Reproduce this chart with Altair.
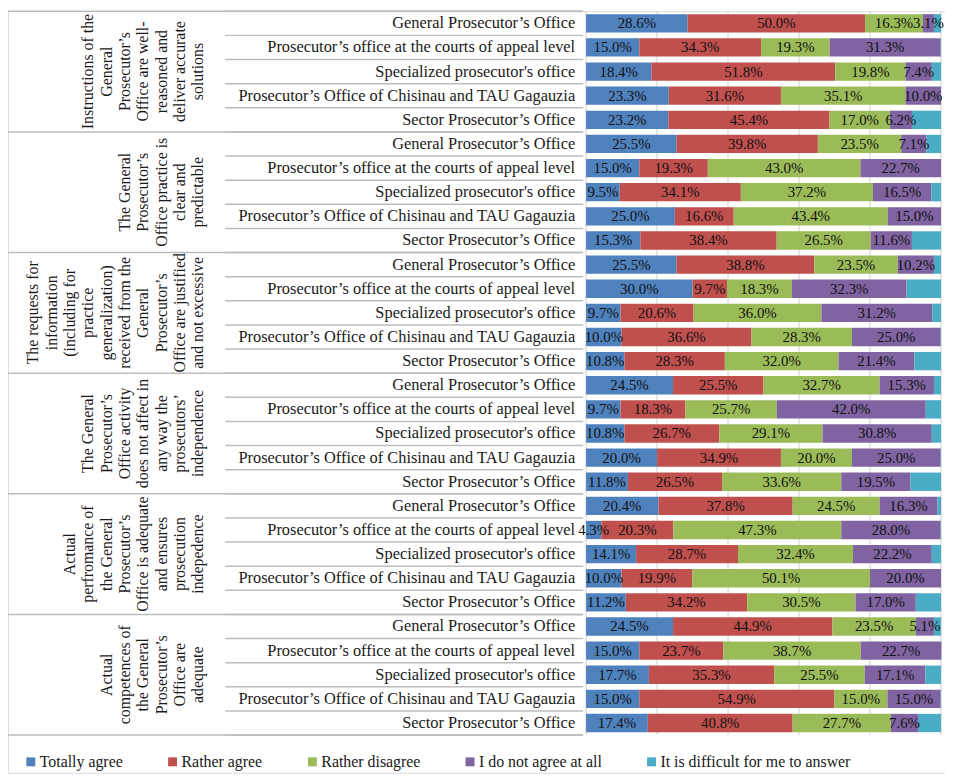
import altair as alt
import pandas as pd

group_labels = [
    "Instructions of the\nGeneral\nProsecutor’s\nOffice are well-\nreasoned and\ndeliver accurate\nsolutions",
    "The General\nProsecutor’s\nOffice practice is\nclear and\npredictable",
    "The requests for\ninformation\n(including for\npractice\ngeneralization)\nreceived from the\nGeneral\nProsecutor’s\nOffice are justified\nand not excessive",
    "The General\nProsecutor’s\nOffice activity\ndoes not affect in\nany way the\nprosecutors’\nindependence",
    "Actual\nperfromance of\nthe General\nProsecutor’s\nOffice is adequate\nand ensures\nprosecution\nindepedence",
    "Actual\ncompetences of\nthe General\nProsecutor’s\nOffice are\nadequate",
]
row_labels = [
    "General Prosecutor’s Office",
    "Prosecutor’s office at the courts of appeal level",
    "Specialized prosecutor's office",
    "Prosecutor’s Office of  Chisinau and TAU Gagauzia",
    "Sector Prosecutor’s Office",
]
categories = ["Totally agree", "Rather agree", "Rather disagree",
              "I do not agree at all", "It is difficult for me to answer"]
colors = ["#4F81BD", "#C0504D", "#9BBB59", "#8064A2", "#4BACC6"]

totally_agree = [28.6, 15.0, 18.4, 23.3, 23.2, 25.5, 15.0, 9.5, 25.0, 15.3,
                 25.5, 30.0, 9.7, 10.0, 10.8, 24.5, 9.7, 10.8, 20.0, 11.8,
                 20.4, 4.3, 14.1, 10.0, 11.2, 24.5, 15.0, 17.7, 15.0, 17.4]
rather_agree = [50.0, 34.3, 51.8, 31.6, 45.4, 39.8, 19.3, 34.1, 16.6, 38.4,
                38.8, 9.7, 20.6, 36.6, 28.3, 25.5, 18.3, 26.7, 34.9, 26.5,
                37.8, 20.3, 28.7, 19.9, 34.2, 44.9, 23.7, 35.3, 54.9, 40.8]
rather_disagree = [16.3, 19.3, 19.8, 35.1, 17.0, 23.5, 43.0, 37.2, 43.4, 26.5,
                   23.5, 18.3, 36.0, 28.3, 32.0, 32.7, 25.7, 29.1, 20.0, 33.6,
                   24.5, 47.3, 32.4, 50.1, 30.5, 23.5, 38.7, 25.5, 15.0, 27.7]
not_agree = [3.1, 31.3, 7.4, 10.0, 6.2, 7.1, 22.7, 16.5, 15.0, 11.6,
             10.2, 32.3, 31.2, 25.0, 21.4, 15.3, 42.0, 30.8, 25.0, 19.5,
             16.3, 28.0, 22.2, 20.0, 17.0, 5.1, 22.7, 17.1, 15.0, 7.6]
difficult = [2.0, 0.1, 2.6, 0.0, 8.2, 4.1, 0.0, 2.7, 0.0, 8.2,
             2.0, 9.7, 2.5, 0.1, 7.5, 2.0, 4.3, 2.6, 0.1, 8.6,
             1.0, 0.1, 2.6, 0.0, 7.1, 2.0, 0.0, 4.4, 0.1, 6.5]
grid_ticks = [0, 20, 40, 60, 80, 100]

series = [totally_agree, rather_agree, rather_disagree, not_agree, difficult]
n_rows = len(row_labels)
n_groups = len(group_labels)
n_total = n_rows * n_groups

records = []
for ci, (cat, vals) in enumerate(zip(categories, series)):
    for pos, v in enumerate(vals):
        records.append({"pos": pos, "category": cat, "order": ci, "value": v})
df = pd.DataFrame(records)

rows_df = pd.DataFrame({"pos": list(range(n_total)),
                        "label": [row_labels[i % n_rows] for i in range(n_total)]})
groups_df = pd.DataFrame({"g": list(range(n_groups)), "label": group_labels})
row_lines = pd.DataFrame({"b": list(range(n_total + 1))})
group_lines = pd.DataFrame({"b": [g * n_rows for g in range(n_groups + 1)]})
grid_df = pd.DataFrame({"t": grid_ticks})

# ---- layout (pixels inside the chart)
FONT = "Liberation Serif"
W, H = 945, 768
TABLE_H = 730
BAR_L, BAR_R = 583, 941
ROW_LINE_L, ROW_LINE_R = 219, 580
LABEL_R = 572
GROUP_LAST = 192
LH = 18.5
LINE = "#bcbcbc"

yscale = alt.Scale(domain=[0, n_total], range=[0, TABLE_H], nice=False, zero=False)
xscale = alt.Scale(domain=[0, 100], range=[BAR_L, BAR_R], nice=False, zero=False)
px_scale = alt.Scale(domain=[0, W], range=[0, W], nice=False, zero=False)
color_scale = alt.Scale(domain=categories, range=colors)

# grid lines of the bar area
grid = alt.Chart(grid_df).mark_rule(color="#cfcfcf", strokeWidth=1).encode(
    x=alt.X("t:Q", scale=xscale, axis=None),
    y=alt.value(0), y2=alt.value(TABLE_H))

base = alt.Chart(df).transform_stack(
    stack="value", groupby=["pos"], sort=[alt.SortField("order", order="ascending")],
    as_=["x0", "x1"]
).transform_calculate(
    mid="(datum.x0+datum.x1)/2",
    ytop="datum.pos+0.12",
    ybot="datum.pos+0.88",
    ymid="datum.pos+0.5",
    txt="format(datum.value, '.1f') + '%'"
)
bars = base.mark_rect().encode(
    x=alt.X("x0:Q", scale=xscale, axis=None),
    x2="x1:Q",
    y=alt.Y("ytop:Q", scale=yscale, axis=None),
    y2="ybot:Q",
    color=alt.Color("category:N", scale=color_scale, legend=alt.Legend(
        orient="none", legendX=15, legendY=749, direction="horizontal", columns=5,
        title=None, symbolType="square", symbolSize=81, symbolStrokeWidth=0,
        symbolOpacity=1, labelFont=FONT, labelFontSize=16, labelColor="#1a1a1a",
        columnPadding=42, labelOffset=1, padding=0, labelLimit=400)))
labels = base.transform_filter("datum.order < 4").mark_text(
    font=FONT, fontSize=15, color="#111111", baseline="middle").encode(
    x=alt.X("mid:Q", scale=xscale, axis=None),
    y=alt.Y("ymid:Q", scale=yscale, axis=None),
    text="txt:N")
bar_layer = alt.layer(grid, bars, labels)

# row separators and row labels
r_rules = alt.Chart(row_lines).mark_rule(color=LINE, strokeWidth=1.5).encode(
    y=alt.Y("b:Q", scale=yscale, axis=None),
    x=alt.value(ROW_LINE_L), x2=alt.value(ROW_LINE_R))
r_text = alt.Chart(rows_df).transform_calculate(
    ymid="datum.pos+0.5"
).mark_text(align="right", baseline="middle", font=FONT, fontSize=16.5,
            color="#1a1a1a").encode(
    y=alt.Y("ymid:Q", scale=yscale, axis=None),
    x=alt.value(LABEL_R),
    text="label:N")

# group separators and rotated group labels
g_rules = alt.Chart(group_lines).mark_rule(color=LINE, strokeWidth=1.5).encode(
    y=alt.Y("b:Q", scale=yscale, axis=None),
    x=alt.value(0), x2=alt.value(ROW_LINE_R))
g_text = alt.Chart(groups_df).transform_calculate(
    ymid=f"datum.g*{n_rows}+{n_rows}/2",
    nl="length(split(datum.label, '\\n'))",
).transform_calculate(
    xa=f"{GROUP_LAST} - (datum.nl - 1) * {LH}"
).mark_text(angle=270, align="center", baseline="middle", lineBreak="\n",
            lineHeight=LH, font=FONT, fontSize=16, color="#1a1a1a").encode(
    y=alt.Y("ymid:Q", scale=yscale, axis=None),
    x=alt.X("xa:Q", scale=px_scale, axis=None),
    text="label:N")

chart = alt.layer(bar_layer, r_rules, r_text, g_rules, g_text).resolve_scale(
    x="independent"
).properties(
    width=W, height=H, padding=0,
    autosize=alt.AutoSizeParams(type="none")
).configure_view(stroke=None).configure_legend(
    labelFont=FONT, labelFontSize=16, labelColor="#1a1a1a"
).configure(background="white", font=FONT)

chart.save("out.html", embed_options={"renderer": "svg", "actions": False})
